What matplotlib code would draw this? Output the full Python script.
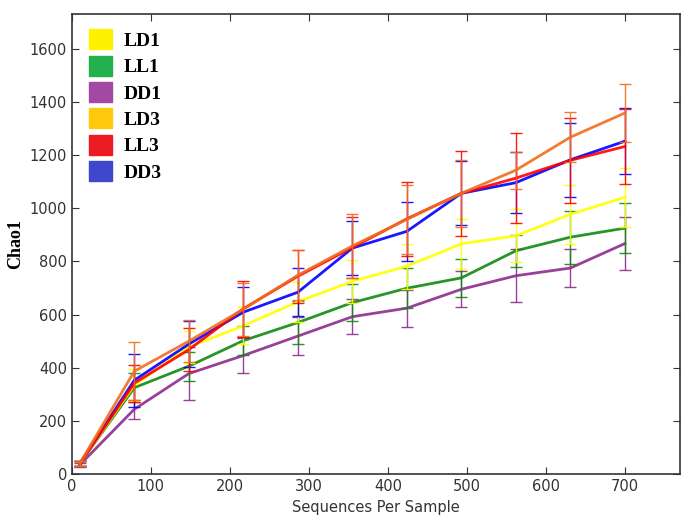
import matplotlib
matplotlib.use('Agg')
import matplotlib.pyplot as plt
import matplotlib.patches as mpatches
import numpy as np

# sequences per sample (rarefaction depths)
depth = [10, 79, 148, 217, 286, 355, 424, 493, 562, 631, 700]

labels = ['LD1', 'LL1', 'DD1', 'LD3', 'LL3', 'DD3']

LD1 = [40, 335, 478, 558, 648, 725, 782, 866, 896, 977, 1041]
LL1 = [40, 325, 406, 502, 570, 645, 699, 738, 840, 891, 925]
DD1 = [35, 244, 378, 446, 519, 592, 624, 695, 746, 775, 867]
LD3 = [40, 387, 500, 620, 748, 858, 958, 1056, 1143, 1267, 1358]
LL3 = [40, 342, 468, 622, 744, 852, 960, 1056, 1113, 1180, 1232]
DD3 = [40, 353, 489, 609, 684, 850, 913, 1056, 1096, 1182, 1252]

LD1_err = [10, 60, 60, 70, 75, 80, 85, 95, 100, 110, 110]
LL1_err = [8, 55, 55, 55, 80, 70, 75, 72, 60, 100, 95]
DD1_err = [8, 35, 100, 65, 70, 65, 70, 67, 100, 70, 100]
LD3_err = [10, 110, 80, 100, 95, 120, 130, 125, 70, 95, 110]
LL3_err = [10, 70, 80, 105, 100, 115, 140, 160, 170, 160, 140]
DD3_err = [10, 100, 85, 95, 90, 100, 110, 120, 115, 140, 125]

line_colors = ['#ffff00', '#118811', '#8e2c8e', '#f26d1d', '#ff0000', '#0000ff']
legend_colors = ['#fff200', '#22b14c', '#a349a4', '#ffc90e', '#ed1c24', '#3f48cc']

series = [LD1, LL1, DD1, LD3, LL3, DD3]
errs = [LD1_err, LL1_err, DD1_err, LD3_err, LL3_err, DD3_err]

fig = plt.figure(figsize=(6.85, 5.21), dpi=100)
ax = fig.add_axes([0.105, 0.090, 0.888, 0.883])

order = [2, 1, 0, 5, 4, 3]
for i in order:
    ax.errorbar(depth, series[i], yerr=errs[i], color=line_colors[i], lw=2,
                elinewidth=1, capsize=4, capthick=1, ecolor=line_colors[i],
                alpha=0.9, zorder=2 + order.index(i))

ax.set_xlim(0, 770)
ax.set_ylim(0, 1730)
ax.set_xticks(range(0, 701, 100))
ax.set_yticks(range(0, 1601, 200))
ax.tick_params(direction='in', top=True, right=True, length=5, labelsize=10.5,
               labelcolor='#333333', color='#333333')
for s in ax.spines.values():
    s.set_color('#333333')
    s.set_linewidth(1.2)

ax.set_xlabel('Sequences Per Sample', fontsize=10.5, color='#333333')
ax.set_ylabel('Chao1', fontsize=13, fontweight='bold', family='Liberation Serif')

handles = [mpatches.Patch(color=c, label=l) for c, l in zip(legend_colors, labels)]
leg = ax.legend(handles=handles, loc='upper left', bbox_to_anchor=(0.0, 1.005),
                frameon=False, handlelength=1.15, handleheight=1.2, labelspacing=0.3,
                handletextpad=0.6, prop={'family': 'Liberation Serif', 'weight': 'bold', 'size': 14})

fig.savefig('out.png', dpi=100)
